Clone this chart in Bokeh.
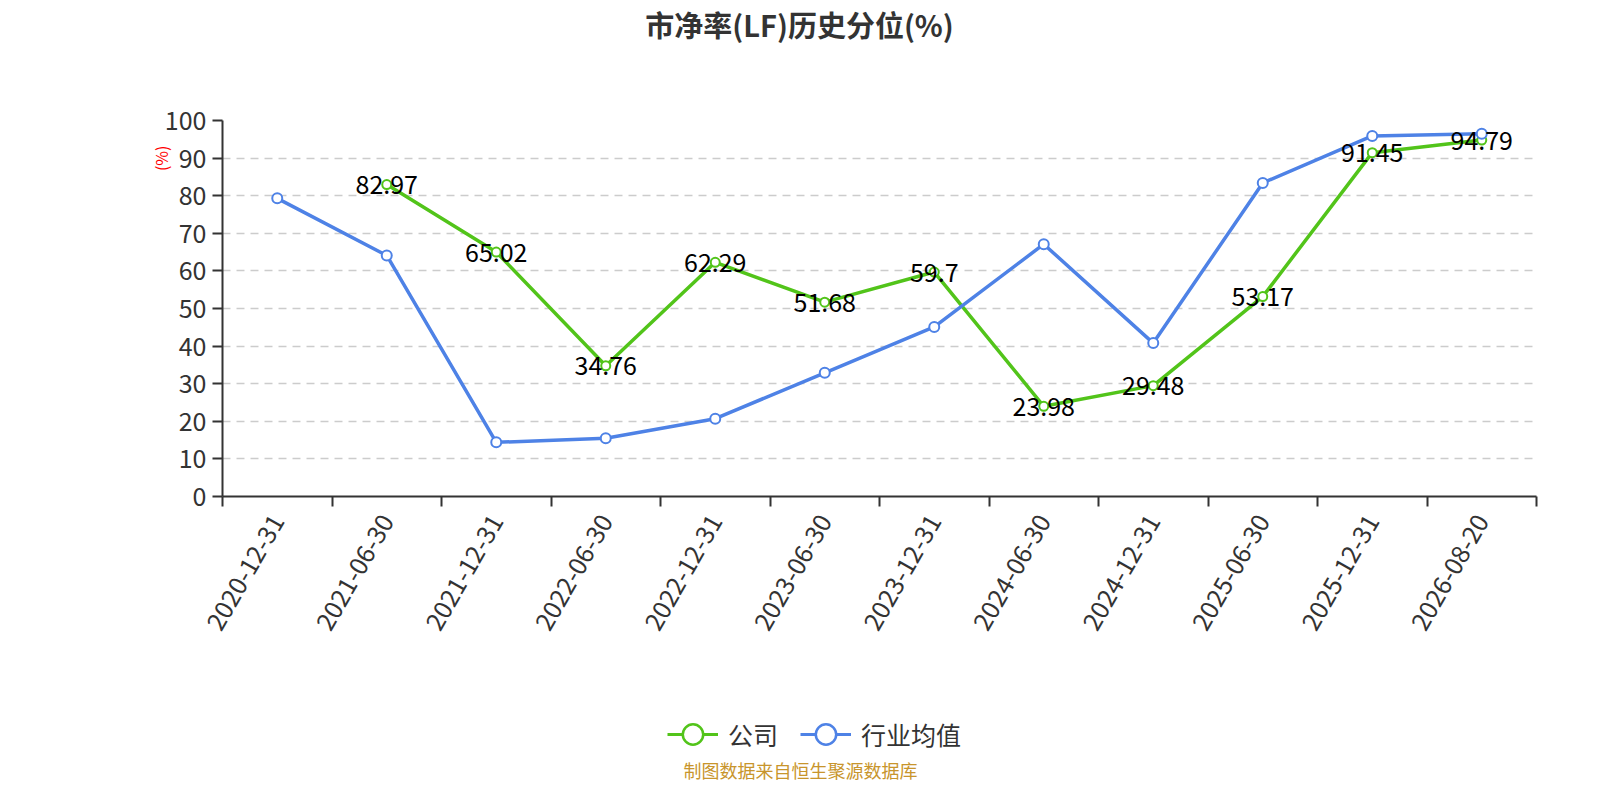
import math
import numpy as np
from bokeh.plotting import figure
from bokeh.layouts import column
from bokeh.models import (ColumnDataSource, FixedTicker, Label, Legend, LegendItem,
                          Range1d, Title)
from bokeh.core.properties import value
from bokeh.embed import file_html
from bokeh.resources import INLINE

categories = ["2020-12-31", "2021-06-30", "2021-12-31", "2022-06-30", "2022-12-31",
              "2023-06-30", "2023-12-31", "2024-06-30", "2024-12-31", "2025-06-30",
              "2025-12-31", "2026-08-20"]
company = [None, 82.97, 65.02, 34.76, 62.29, 51.68, 59.7, 23.98, 29.48, 53.17, 91.45, 94.79]
industry = [79.3, 64.1, 14.4, 15.5, 20.7, 32.9, 45.1, 67.1, 40.8, 83.4, 95.9, 96.5]
y_ticks = [0, 10, 20, 30, 40, 50, 60, 70, 80, 90, 100]
series_names = ["公司", "行业均值"]
title_text = "市净率(LF)历史分位(%)"
footer_text = "制图数据来自恒生聚源数据库"

GREEN = "#52c41a"
BLUE = "#4e82e6"
FONT = "Noto Sans CJK SC"

W = 1584
LEFT = 222
FW = 1314
RIGHT = W - LEFT - FW
TOP_H = 100
MAIN_H = 546
BOT_H = 138


def blank(height):
    # frames of a column are aligned with the main chart's frame; x data == canvas pixels
    f = figure(width=W, height=height, output_backend="svg", toolbar_location=None,
               x_range=Range1d(LEFT, LEFT + FW), y_range=Range1d(0, height),
               min_border_left=LEFT, min_border_right=RIGHT,
               min_border_top=0, min_border_bottom=0,
               x_axis_location=None, y_axis_location=None)
    f.outline_line_color = None
    f.grid.visible = False
    return f


# ---------- title strip ----------
top = blank(TOP_H)
top.add_layout(Label(x=799, y=TOP_H - 23, text=title_text, text_align="center",
                     text_baseline="middle", text_color="#333333", text_font=FONT,
                     text_font_size="29px", text_font_style="bold"))

# ---------- main chart ----------
xs = list(range(len(categories)))
src_ind = ColumnDataSource(dict(x=xs, y=industry))
src_comp = ColumnDataSource(dict(
    x=[x for x, v in zip(xs, company) if v is not None],
    y=[v for v in company if v is not None],
    t=[f"{v:g}" for v in company if v is not None],
))

p = figure(width=W, height=MAIN_H, output_backend="svg", toolbar_location=None,
           x_range=Range1d(-0.5, len(categories) - 0.5), y_range=Range1d(0, 100),
           min_border_left=LEFT, min_border_top=20, min_border_right=RIGHT,
           min_border_bottom=150, frame_width=FW, frame_height=376)
p.outline_line_color = None

p.xaxis.ticker = FixedTicker(ticks=xs, minor_ticks=[i - 0.5 for i in range(len(categories) + 1)])
p.xaxis.major_label_overrides = {i: c for i, c in enumerate(categories)}
p.xaxis.major_tick_line_color = None
p.xaxis.minor_tick_line_color = "#333333"
p.xaxis.minor_tick_line_width = 2
p.xaxis.minor_tick_out = 10
p.xaxis.minor_tick_in = 0
p.xaxis.axis_line_color = "#333333"
p.xaxis.axis_line_width = 2
p.xaxis.major_label_orientation = math.pi / 3
p.xaxis.major_label_text_font_size = "25px"
p.xaxis.major_label_text_color = "#333333"
p.xaxis.major_label_text_font = FONT
p.xaxis.major_label_standoff = 10

p.yaxis.ticker = FixedTicker(ticks=y_ticks)
p.yaxis.axis_line_color = "#333333"
p.yaxis.axis_line_width = 2
p.yaxis.major_tick_line_color = "#333333"
p.yaxis.major_tick_line_width = 2
p.yaxis.major_tick_out = 10
p.yaxis.major_tick_in = 0
p.yaxis.minor_tick_line_color = None
p.yaxis.major_label_text_font_size = "25px"
p.yaxis.major_label_text_color = "#333333"
p.yaxis.major_label_text_font = FONT
p.yaxis.major_label_standoff = 6

p.add_layout(Title(text="(%)", align="right", offset=25, text_color="red",
                   text_font=FONT, text_font_size="16px", text_font_style="normal",
                   standoff=-22), "left")

p.xgrid.grid_line_color = None
p.ygrid.grid_line_color = "#cccccc"
p.ygrid.grid_line_dash = "8 6"
p.ygrid.grid_line_width = 1.5

p.line("x", "y", source=src_comp, line_color=GREEN, line_width=3.5)
p.scatter("x", "y", source=src_comp, size=9, marker="circle",
          fill_color="white", line_color=GREEN, line_width=2)
p.line("x", "y", source=src_ind, line_color=BLUE, line_width=3.5)
p.scatter("x", "y", source=src_ind, size=10, marker="circle",
          fill_color="white", line_color=BLUE, line_width=2)

p.text("x", "y", text="t", source=src_comp, text_align="center", text_baseline="middle",
       text_font=value(FONT), text_font_size="25px", text_color="#000000")

# ---------- legend + footer strip ----------
bot = blank(BOT_H)
nan_src = ColumnDataSource(dict(x=[np.nan], y=[np.nan]))
items = []
for name, col in zip(series_names, [GREEN, BLUE]):
    lr = bot.line("x", "y", source=nan_src, line_color=col, line_width=3)
    cr = bot.scatter("x", "y", source=nan_src, size=23, marker="circle",
                     fill_color="white", line_color=col, line_width=2.5)
    items.append(LegendItem(label=name, renderers=[lr, cr]))
legend = Legend(items=items, orientation="horizontal", location=(445, 21),
                border_line_color=None, background_fill_alpha=0,
                label_text_font=FONT, label_text_font_size="25px",
                label_text_color="#333333", glyph_width=51, glyph_height=58,
                spacing=22, label_standoff=10, padding=4, margin=0)
bot.add_layout(legend, "center")
bot.add_layout(Label(x=800, y=15, text=footer_text, text_align="center",
                     text_baseline="middle", text_color="#c8952c", text_font=FONT,
                     text_font_size="18px"))

layout = column(top, p, bot, spacing=0)
open("out.html", "w").write(file_html(layout, INLINE))
